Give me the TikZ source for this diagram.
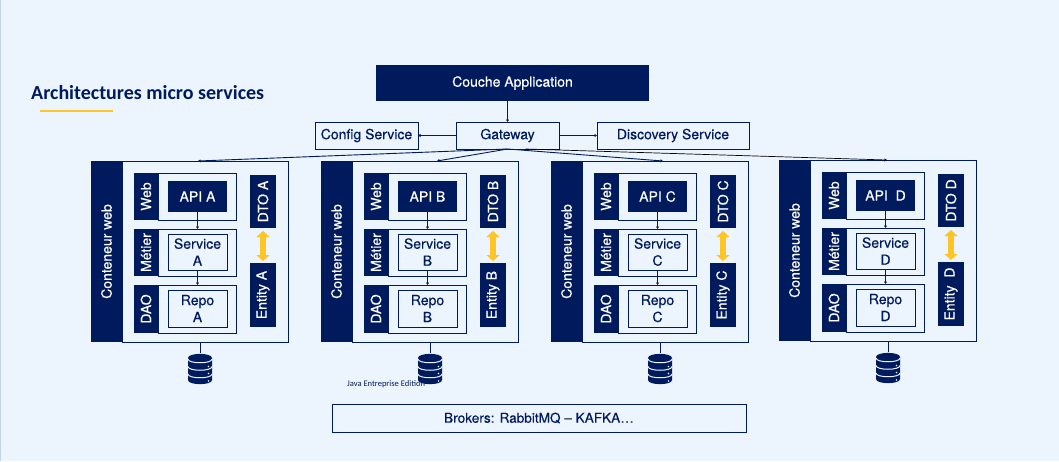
\documentclass[tikz,border=0pt]{standalone}
\usepackage{fontspec}
\setmainfont[FakeBold=0.35]{TeX Gyre Heros}
\newfontfamily\titlefont{Carlito}
\usepackage{tikz}
\usetikzlibrary{arrows.meta,positioning}
\usepackage{xcolor}
\definecolor{navy}{HTML}{001A5E}
\definecolor{paleblue}{HTML}{ECF4FE}
\definecolor{edgeblue}{HTML}{C3D2E8}
\definecolor{sunyellow}{HTML}{FFC425}
\newcommand{\upright}[1]{\rotatebox{90}{#1}}
% one web container with its three layers, its two objects and its database
\newcommand{\webstack}[4][ ]{%
\node[band, minimum width=31pt, minimum height=181pt, anchor=north west] (band#2) at (#3,#4) {\upright{Conteneur web}};
\node[box, minimum width=166pt, minimum height=181pt, right=0pt of band#2] (frame#2) {};
\node[tagbox, minimum width=24pt, minimum height=47pt, below right=12pt and 12pt of band#2.north east] (webtag#2) {\upright{Web}};
\node[box, minimum width=78pt, minimum height=47pt, right=0pt of webtag#2] (webbox#2) {};
\node[band, minimum width=59pt, minimum height=31pt, below right=8pt and 10pt of webtag#2.north east] (api#2) {API#1#2};
\node[tagbox, minimum width=24pt, minimum height=47pt, below=9pt of webtag#2] (metiertag#2) {\upright{Métier}};
\node[box, minimum width=78pt, minimum height=47pt, right=0pt of metiertag#2] (metierbox#2) {};
\node[box, minimum width=59pt, minimum height=36pt, below right=5pt and 10pt of metiertag#2.north east] (service#2) {Service\\#2};
\node[tagbox, minimum width=24pt, minimum height=48pt, below=9pt of metiertag#2] (daotag#2) {\upright{DAO}};
\node[box, minimum width=78pt, minimum height=48pt, right=0pt of daotag#2] (daobox#2) {};
\node[box, minimum width=59pt, minimum height=37pt, below right=5pt and 10pt of daotag#2.north east] (repo#2) {Repo\\#2};
\node[tagbox, minimum width=26pt, minimum height=53pt, below right=14pt and 128pt of band#2.north east] (dto#2) {\upright{DTO #2}};
\node[tagbox, minimum width=26pt, minimum height=64pt, below=35pt of dto#2] (entity#2) {\upright{Entity#1#2}};
\node[minimum width=24pt, minimum height=32pt, inner sep=0pt, outer sep=0pt, below right=11pt and 78pt of band#2.south east, anchor=north] (db#2) {};
\draw[flow] (api#2.south) -- (api#2.south |- metierbox#2.north);
\draw[flow] (service#2.south) -- (service#2.south |- daobox#2.north);
\draw[link] (dto#2) -- (entity#2);
\draw[navy, line width=0.9pt] (db#2.north |- frame#2.south) -- (db#2.north);
\begin{scope}[shift={(db#2.center)}]
\fill[navy] (-12,-11) .. controls (-12,-16.5) and (12,-16.5) .. (12,-11) -- (12,11) .. controls (12,16.5) and (-12,16.5) .. (-12,11) -- cycle;
\draw[paleblue, line width=1pt] (-12,-10) .. controls (-12,-5) and (12,-5) .. (12,-10);
\draw[paleblue, line width=1pt] (-12,-2.5) .. controls (-12,2.5) and (12,2.5) .. (12,-2.5);
\draw[paleblue, line width=1pt] (-12,5) .. controls (-12,10) and (12,10) .. (12,5);
\fill[paleblue] (8.5,-2.5) circle (0.9) (8.5,4.5) circle (0.9) (8.5,12) circle (0.9);
\end{scope}
}

\begin{document}
\begin{tikzpicture}[x=1pt, y=-1pt, every node/.style={font=\fontsize{14}{17}\selectfont, text=navy}]
\tikzset{box/.style={draw=navy, line width=1pt, fill=paleblue, align=center, inner sep=0pt, outer sep=0pt}}
\tikzset{band/.style={fill=navy, align=center, inner sep=0pt, outer sep=0pt, text=white}}
\tikzset{tagbox/.style={band}}
\tikzset{flow/.style={navy, line width=0.9pt, -{Latex[length=2.5pt,width=3.5pt]}}}
\tikzset{link/.style={sunyellow, line width=6.5pt, {Triangle[length=6pt,width=13pt]}-{Triangle[length=6pt,width=13pt]}, shorten <=3pt, shorten >=2pt}}
\useasboundingbox (0,0) rectangle (1059,461);
\fill[paleblue] (0,0) rectangle (1059,461);
\fill[edgeblue] (0,0) rectangle (1,461);

\node[anchor=west, inner sep=0pt, font=\titlefont\bfseries\fontsize{20}{22}\selectfont] (title) at (31,93) {Architectures micro services};
\coordinate (ruleleft) at (40,111);
\coordinate (ruleright) at (113,111);
\draw[sunyellow, line width=1.8pt] (ruleleft) -- (ruleright);

\node[band, minimum width=273pt, minimum height=36pt, anchor=north west] (app) at (376,65) {Couche Application};
\node[box, minimum width=103pt, minimum height=27pt, anchor=north west] (gateway) at (456,122) {Gateway};
\node[box, minimum width=103pt, minimum height=27pt, left=38pt of gateway] (config) {Config Service};
\node[box, minimum width=152pt, minimum height=27pt, right=38pt of gateway] (discovery) {Discovery Service};
\node[box, minimum width=414pt, minimum height=28pt, anchor=north west, font=\fontsize{13.6}{16}\selectfont] (brokers) at (332,404) {Brokers: RabbitMQ -- KAFKA…};

\webstack{A}{91}{161}
\webstack{B}{321}{161}
\webstack{C}{551}{161}
\webstack[\ \ ]{D}{779}{160}

\node[anchor=west, inner sep=0pt, font=\titlefont\fontsize{8.5}{10}\selectfont] (jee) at (347,384) {Java Entreprise Edition};

\draw[flow] (app.south -| gateway.north) -- (gateway.north);
\draw[flow] (gateway) -- (config);
\draw[flow] (gateway) -- (discovery);
\draw[flow] (gateway.south) -- ([xshift=-7pt]frameA.north);
\draw[flow] (gateway.south) -- ([xshift=2pt]frameB.north);
\draw[flow] (gateway.south) -- ([xshift=-2pt]frameC.north);
\draw[black, line width=0.7pt, -{Latex[length=2.5pt,width=3.5pt]}] ([xshift=18pt]gateway.south) -- ([xshift=-6pt]frameD.north);
\end{tikzpicture}
\end{document}
